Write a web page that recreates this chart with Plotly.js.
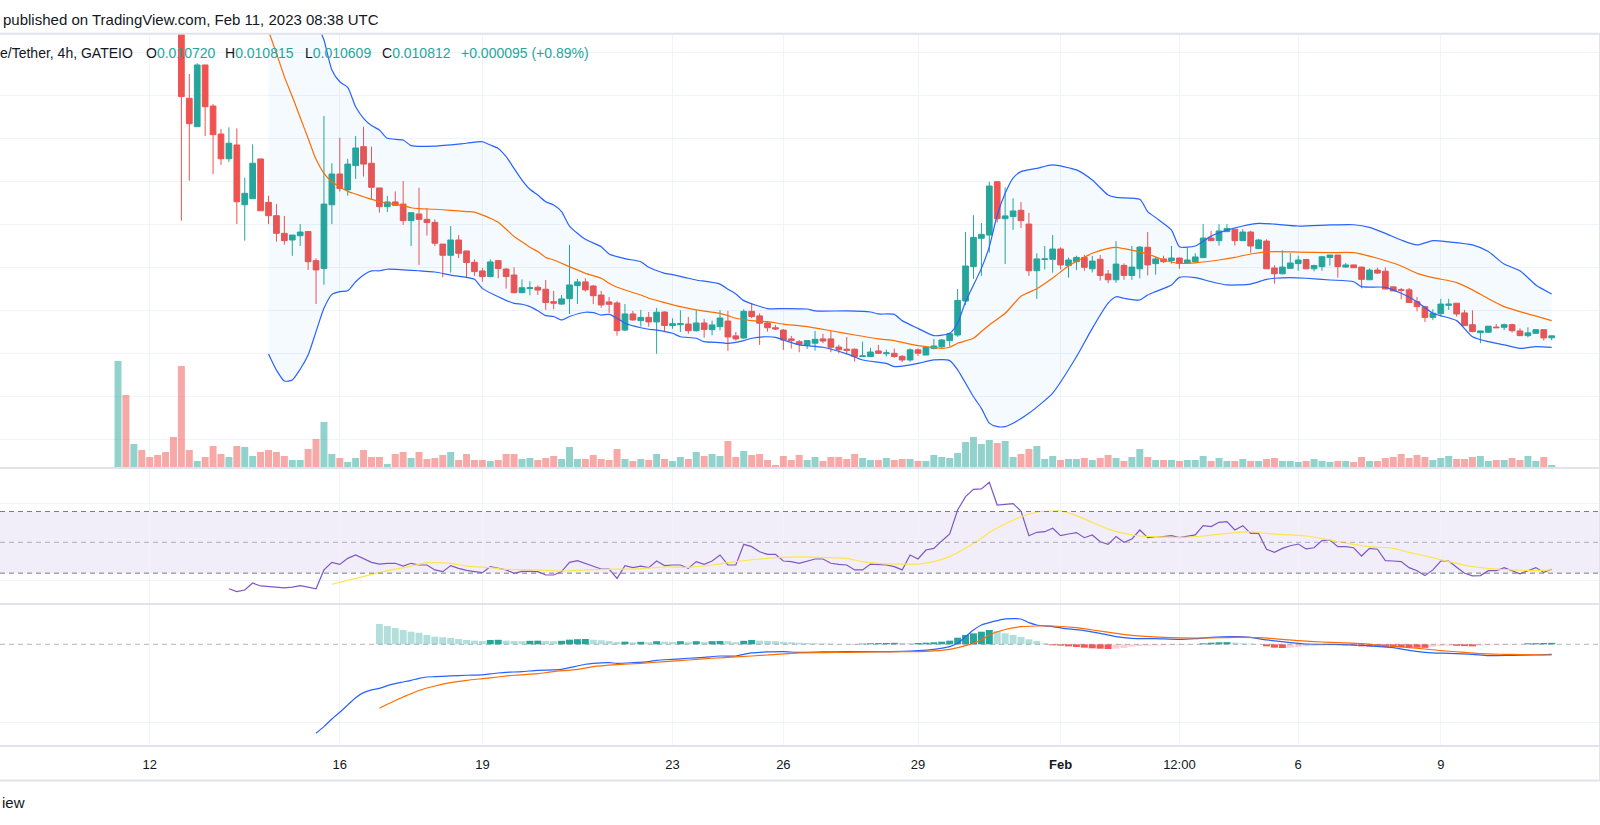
<!DOCTYPE html>
<html><head><meta charset="utf-8">
<script src="https://cdn.plot.ly/plotly-3.0.1.min.js"></script>
<style>html,body{margin:0;padding:0;background:#fff;}#chart{width:1600px;height:825px;}</style>
</head><body><div id="chart"></div>
<script>
// ---------------- DATA ----------------
const candleOpen = [0.0300,0.0312,0.0292,0.0301,0.0293,0.0286,0.0279,0.0273,
0.0262,0.02186,0.02054,0.02341,0.02150,0.02020,0.01905,0.01969,0.01691,0.01719,
0.01904,0.01702,0.01640,0.01558,0.01527,0.01547,0.01566,0.01431,0.01394,0.01691,
0.01834,0.01760,0.01873,0.01961,0.01884,0.01769,0.01682,0.01704,0.01694,0.01617,
0.01648,0.01623,0.01609,0.01508,0.01456,0.01527,0.01476,0.01423,0.01383,0.01357,
0.01431,0.01392,0.01364,0.01282,0.01301,0.01307,0.01298,0.01240,0.01229,0.01254,
0.01315,0.01332,0.01313,0.01271,0.01239,0.01234,0.01108,0.01183,0.01152,0.01167,
0.01146,0.01192,0.01129,0.01133,0.01136,0.01105,0.01141,0.01110,0.01124,0.01150,
0.01081,0.01071,0.01195,0.01174,0.01141,0.01119,0.01108,0.01067,0.01054,0.01039,
0.01047,0.01067,0.01067,0.01029,0.01019,0.01019,0.00985,0.00985,0.01011,0.00998,
0.01000,0.00986,0.00969,0.01016,0.00992,0.01022,0.01031,0.01059,0.01085,0.01243,
0.01403,0.01535,0.01550,0.01798,0.01626,0.01636,0.01665,0.01601,0.01384,0.01436,
0.01437,0.01485,0.01408,0.01426,0.01446,0.01393,0.01437,0.01369,0.01342,0.01409,
0.01362,0.01393,0.01493,0.01417,0.01439,0.01431,0.01443,0.01418,0.01426,0.01445,
0.01536,0.01524,0.01566,0.01577,0.01524,0.01564,0.01487,0.01522,0.01397,0.01370,
0.01395,0.01417,0.01436,0.01393,0.01403,0.01446,0.01457,0.01401,0.01411,0.01401,
0.01342,0.01387,0.01382,0.01309,0.01296,0.01295,0.01240,0.01217,0.01167,0.01185,
0.01223,0.01233,0.01188,0.01133,0.01096,0.01098,0.01122,0.01121,0.01133,0.01104,
0.01082,0.01093,0.01110,0.010720];
const candleHigh = [0.0318,0.0316,0.0305,0.0304,0.0296,0.0290,0.0283,0.0276,
0.0266,0.02299,0.02349,0.02341,0.02159,0.02043,0.02051,0.02046,0.01817,0.01972,
0.01904,0.01733,0.01694,0.01639,0.01550,0.01601,0.01569,0.01442,0.02104,0.01884,
0.02003,0.01904,0.02011,0.02054,0.01961,0.01769,0.01732,0.01753,0.01801,0.01654,
0.01770,0.01676,0.01623,0.01508,0.01592,0.01550,0.01476,0.01437,0.01397,0.01437,
0.01434,0.01395,0.01400,0.01344,0.01335,0.01316,0.01341,0.01290,0.01271,0.01504,
0.01346,0.01349,0.01318,0.01290,0.01262,0.01243,0.01229,0.01197,0.01202,0.01192,
0.01211,0.01195,0.01163,0.01200,0.01169,0.01200,0.01160,0.01152,0.01200,0.01197,
0.01099,0.01205,0.01234,0.01186,0.01149,0.01132,0.01113,0.01081,0.01062,0.01060,
0.01104,0.01091,0.01104,0.01040,0.01076,0.01023,0.01054,0.01025,0.01039,0.01017,
0.01022,0.00992,0.01023,0.01023,0.01033,0.01067,0.01067,0.01096,0.01299,0.01564,
0.01642,0.01606,0.01798,0.01801,0.01772,0.01721,0.01704,0.01653,0.01465,0.01499,
0.01550,0.01493,0.01445,0.01454,0.01457,0.01453,0.01457,0.01387,0.01522,0.01418,
0.01499,0.01499,0.01564,0.01449,0.01454,0.01499,0.01446,0.01493,0.01465,0.01601,
0.01570,0.01601,0.01601,0.01581,0.01577,0.01570,0.01532,0.01530,0.01409,0.01479,
0.01466,0.01454,0.01439,0.01412,0.01453,0.01457,0.01457,0.01420,0.01412,0.01403,
0.01395,0.01398,0.01400,0.01309,0.01304,0.01304,0.01262,0.01217,0.01205,0.01253,
0.01253,0.01233,0.01202,0.01200,0.01104,0.01127,0.01136,0.01138,0.01138,0.01116,
0.01121,0.01112,0.01112,0.010815];
const candleLow = [0.0290,0.0288,0.0288,0.0290,0.0284,0.0277,0.0270,0.0258,
0.01617,0.01803,0.02054,0.02011,0.01834,0.01876,0.01890,0.01601,0.01524,0.01719,
0.01663,0.01601,0.01519,0.01505,0.01453,0.01499,0.01388,0.01229,0.01319,0.01601,
0.01752,0.01733,0.01811,0.01822,0.01716,0.01654,0.01657,0.01688,0.01597,0.01499,
0.01411,0.01547,0.01499,0.01353,0.01375,0.01443,0.01349,0.01360,0.01333,0.01353,
0.01349,0.01301,0.01279,0.01279,0.01270,0.01271,0.01202,0.01205,0.01225,0.01183,
0.01229,0.01287,0.01229,0.01212,0.01188,0.01082,0.01104,0.01152,0.01124,0.01124,
0.00998,0.01104,0.01114,0.01099,0.01091,0.01101,0.01073,0.01084,0.01107,0.01011,
0.01059,0.01067,0.01163,0.01039,0.01101,0.01108,0.01016,0.01022,0.01005,0.01020,
0.01013,0.01047,0.01005,0.01000,0.00997,0.00961,0.00985,0.00983,0.00997,0.00985,
0.00979,0.00959,0.00961,0.00988,0.00992,0.01019,0.01022,0.01031,0.01077,0.01225,
0.01346,0.01360,0.01468,0.01608,0.01415,0.01574,0.01583,0.01360,0.01253,0.01390,
0.01375,0.01390,0.01352,0.01387,0.01384,0.01376,0.01338,0.01326,0.01328,0.01342,
0.01342,0.01349,0.01362,0.01366,0.01420,0.01417,0.01393,0.01418,0.01421,0.01445,
0.01522,0.01501,0.01564,0.01501,0.01524,0.01468,0.01485,0.01393,0.01324,0.01367,
0.01393,0.01384,0.01392,0.01381,0.01384,0.01408,0.01352,0.01398,0.01398,0.01302,
0.01341,0.01370,0.01298,0.01290,0.01251,0.01236,0.01195,0.01146,0.01154,0.01171,
0.01202,0.01171,0.01129,0.01098,0.01047,0.01096,0.01119,0.01108,0.01096,0.01081,
0.01074,0.01090,0.01059,0.010609];
const candleClose = [0.0312,0.0292,0.0301,0.0293,0.0286,0.0279,0.0273,0.0262,
0.02194,0.02068,0.02341,0.02147,0.02017,0.01905,0.01977,0.01705,0.01744,0.01884,
0.01663,0.01640,0.01558,0.01524,0.01550,0.01564,0.01426,0.01388,0.01694,0.01834,
0.01766,0.01880,0.01955,0.01880,0.01772,0.01682,0.01704,0.01688,0.01617,0.01654,
0.01623,0.01608,0.01512,0.01456,0.01527,0.01465,0.01422,0.01380,0.01357,0.01425,
0.01394,0.01357,0.01282,0.01305,0.01305,0.01294,0.01236,0.01233,0.01253,0.01318,
0.01332,0.01295,0.01268,0.01225,0.01228,0.01105,0.01183,0.01155,0.01167,0.01146,
0.01191,0.01129,0.01138,0.01138,0.01105,0.01141,0.01111,0.01132,0.01164,0.01076,
0.01067,0.01195,0.01171,0.01140,0.01119,0.01113,0.01062,0.01059,0.01042,0.01059,
0.01065,0.01057,0.01028,0.01017,0.01014,0.00985,0.00988,0.01006,0.01000,0.01002,
0.00985,0.00969,0.01016,0.01000,0.01028,0.01034,0.01062,0.01091,0.01246,0.01406,
0.01539,0.01553,0.01778,0.01626,0.01639,0.01662,0.01617,0.01384,0.01439,0.01439,
0.01485,0.01411,0.01434,0.01446,0.01400,0.01429,0.01362,0.01342,0.01415,0.01362,
0.01401,0.01494,0.01411,0.01439,0.01426,0.01443,0.01418,0.01434,0.01448,0.01536,
0.01524,0.01569,0.01580,0.01524,0.01564,0.01499,0.01527,0.01393,0.01370,0.01401,
0.01420,0.01434,0.01393,0.01408,0.01449,0.01457,0.01403,0.01411,0.01398,0.01344,
0.01387,0.01373,0.01299,0.01290,0.01293,0.01236,0.01217,0.01167,0.01186,0.01229,
0.01229,0.01183,0.01129,0.01101,0.01104,0.01126,0.01119,0.01133,0.01105,0.01082,
0.01095,0.01110,0.010717,0.010812];
// volume (relative units)
const volume = [107,73,24,18,11,13,16,31,102,18,
7,11,22,14,11,22,21,12,16,18,
16,12,8,8,19,29,46,14,10,6,
10,18,11,11,4,14,16,10,16,9,
10,13,16,8,14,8,8,7,8,14,
14,9,10,8,10,12,9,21,9,9,
13,9,8,19,9,7,9,8,14,9,
7,11,9,16,12,14,12,27,11,17,
13,14,8,3,12,8,13,8,11,7,
11,11,9,14,10,8,8,10,8,9,
9,7,7,13,11,10,15,26,31,24,
28,25,27,11,14,19,22,9,12,8,
9,9,10,8,10,13,10,7,11,19,
11,8,8,8,7,8,8,12,7,10,
7,7,9,7,7,9,10,7,7,6,
7,9,7,6,7,7,6,11,7,7,
10,11,14,10,13,11,8,10,12,9,
9,11,12,7,8,8,10,8,12,7,
11,3];
// Bollinger Bands (20, 2) read at bar indices
const bbUpperIdx = [19,21,23,25,26,27,28,29,30,31,32,33,34,36,37,40,44,46,47,48,49,50,51,52,53,54,55,56,57,59,61,62,64,66,67,69,70,72,73,76,77,78,79,82,84,87,88,92,95,96,98,99,101,103,105,106,107,109,110,111,112,113,114,116,118,121,123,125,126,129,130,131,133,134,136,138,140,142,144,146,149,153,156,158,160,162,164,166,168,171,173,175,177,179,181];
const bbUpper = [0.0345,0.0318,0.0290,0.02550,0.02457,0.02318,0.02263,0.02237,0.02147,0.02093,0.02059,0.02039,0.02000,0.01992,0.01966,0.01964,0.01977,0.01984,0.01969,0.01953,0.01915,0.01860,0.01806,0.01763,0.01736,0.01705,0.01690,0.01659,0.01592,0.01530,0.01496,0.01462,0.01440,0.01426,0.01400,0.01372,0.01366,0.01349,0.01341,0.01322,0.01298,0.01276,0.01245,0.01208,0.01208,0.01206,0.01197,0.01197,0.01192,0.01183,0.01181,0.01152,0.01116,0.01082,0.01093,0.01140,0.01240,0.01395,0.01496,0.01643,0.01744,0.01815,0.01845,0.01860,0.01876,0.01853,0.01806,0.01736,0.01725,0.01716,0.01659,0.01631,0.01573,0.01496,0.01499,0.01545,0.01573,0.01592,0.01604,0.01601,0.01592,0.01597,0.01598,0.01586,0.01558,0.01527,0.01504,0.01524,0.01518,0.01504,0.01473,0.01415,0.01384,0.01318,0.01276];
const bbBasisIdx = [19,20,21,22,23,24,25,26,27,28,29,30,31,32,33,34,35,36,37,38,40,42,44,45,46,47,48,49,50,51,52,53,54,55,57,59,61,62,63,66,67,69,71,73,76,77,78,80,82,84,87,90,93,96,98,100,102,104,105,106,108,109,110,112,114,116,118,120,123,125,126,127,130,132,134,136,139,141,143,146,149,153,156,159,162,164,166,169,171,173,175,178,181];
const bbBasis = [0.02500,0.02395,0.02287,0.02194,0.02097,0.02000,0.01902,0.01837,0.01798,0.01775,0.01753,0.01741,0.01728,0.01716,0.01705,0.01698,0.01692,0.01687,0.01677,0.01673,0.01670,0.01665,0.01659,0.01657,0.01643,0.01628,0.01609,0.01577,0.01543,0.01519,0.01493,0.01473,0.01446,0.01434,0.01403,0.01372,0.01349,0.01326,0.01307,0.01271,0.01256,0.01236,0.01217,0.01202,0.01186,0.01175,0.01163,0.01152,0.01147,0.01136,0.01124,0.01105,0.01085,0.01067,0.01059,0.01043,0.01031,0.01023,0.01028,0.01047,0.01070,0.01101,0.01132,0.01186,0.01265,0.01300,0.01350,0.01406,0.01465,0.01488,0.01493,0.01487,0.01462,0.01434,0.01418,0.01421,0.01434,0.01446,0.01462,0.01473,0.01471,0.01468,0.01468,0.01442,0.01406,0.01372,0.01352,0.01329,0.01295,0.01254,0.01217,0.01183,0.01152];
const bbLowerIdx = [19,20,21,22,23,24,25,26,27,28,29,30,31,32,33,34,36,38,40,42,44,45,46,48,50,51,52,53,54,55,56,57,59,60,61,62,63,64,66,67,68,70,71,73,74,76,77,79,80,82,83,84,86,89,92,94,97,98,100,101,103,105,106,108,109,110,111,112,113,115,118,121,123,125,126,127,129,130,131,133,134,136,138,140,143,145,146,148,150,153,156,157,160,162,164,166,169,171,173,175,177,179,181];
const bbLower = [0.00997,0.00922,0.00871,0.00876,0.00926,0.00992,0.01101,0.01209,0.01274,0.01287,0.01291,0.01333,0.01364,0.01383,0.01384,0.01391,0.01388,0.01384,0.01378,0.01364,0.01353,0.01344,0.01302,0.01263,0.01232,0.01228,0.01217,0.01198,0.01175,0.01171,0.01155,0.01171,0.01191,0.01189,0.01178,0.01181,0.01163,0.01140,0.01119,0.01112,0.01108,0.01093,0.01077,0.01070,0.01054,0.01050,0.01046,0.01059,0.01070,0.01077,0.01074,0.01062,0.01039,0.01028,0.00997,0.00969,0.00953,0.00938,0.00946,0.00953,0.00969,0.00966,0.00923,0.00798,0.00744,0.00675,0.00659,0.00659,0.00675,0.00721,0.00815,0.00984,0.01116,0.01233,0.01263,0.01256,0.01248,0.01271,0.01287,0.01318,0.01353,0.01352,0.01333,0.01318,0.01322,0.01344,0.01349,0.01352,0.01349,0.01341,0.01333,0.01310,0.01307,0.01279,0.01240,0.01186,0.01152,0.01077,0.01054,0.01039,0.01023,0.01031,0.01028];
// RSI (14), first value at bar 14
const rsiStart = 14;
const rsiValues = [19.9,18.0,19.1,23.6,21.7,21.2,20.8,20.4,21.0,21.9,21.0,19.9,32.1,37.0,35.7,39.6,41.8,39.6,37.0,35.9,
36.4,36.4,34.6,36.4,35.3,35.3,32.1,31.0,34.9,33.1,31.8,31.0,30.3,34.2,33.1,32.1,29.9,31.2,31.2,31.0,
28.8,28.8,31.0,37.0,38.1,36.4,34.9,32.7,32.7,26.6,34.9,33.6,34.6,33.6,37.9,34.9,35.3,35.3,33.1,37.5,
35.7,37.9,41.8,35.3,35.3,48.7,47.2,43.9,42.2,42.2,37.9,37.5,
36.4,37.9,39.2,39.2,36.4,35.7,35.3,32.1,32.1,35.9,35.7,35.3,34.2,32.1,41.8,39.2,45.0,46.1,50.9,55.4,
71.0,79.6,84.4,84.6,88.9,74.2,74.6,75.1,70.3,54.3,56.5,56.9,59.1,54.3,55.4,56.3,53.0,54.8,50.4,48.7,
53.7,50.0,52.2,58.0,53.0,53.7,53.7,54.3,53.0,53.7,54.8,60.8,60.2,63.0,63.4,58.0,60.8,55.8,55.8,45.5,
43.5,46.1,47.8,48.9,45.7,46.5,51.1,51.5,47.2,47.2,46.5,41.1,46.1,45.5,38.1,37.9,37.5,33.6,31.6,28.4,
32.1,37.9,37.9,33.8,29.9,28.2,28.4,31.6,31.6,33.6,31.4,29.5,31.6,33.6,30.5,32.5];
const rsiMaIdx = [27,30,33,37,39,42,44,47,49,53,56,59,62,65,69,72,75,78,81,86,89,92,94,96,99,101,103,105,107,109,110,112,114,116,118,119,121,123,125,127,129,131,134,137,140,143,145,148,150,153,156,158,161,163,166,168,171,174,176,179,181];
const rsiMa = [22.8,26.6,30.5,34.6,36.8,36.4,34.6,33.6,32.5,32.1,31.4,32.1,32.5,32.7,34.0,33.8,35.3,37.5,39.2,40.5,40.1,39.6,37.5,36.4,35.9,35.9,37.5,40.7,46.1,52.6,56.5,61.9,66.6,69.5,70.3,70.3,67.3,63.0,58.6,55.8,54.1,53.7,53.2,54.1,55.8,56.9,55.8,54.8,54.1,51.5,48.7,47.2,46.1,43.5,40.1,37.5,34.2,32.7,32.1,31.6,32.1];
// MACD (12, 26, 9)
const macdIdx = [25,26,27,28,29,30,31,32,33,34,35,36,37,38,39,40,42,44,46,47,48,49,51,53,55,56,57,58,59,60,62,63,65,67,68,70,72,74,76,78,79,80,81,82,84,86,89,92,96,99,101,103,105,106,107,108,109,110,111,112,114,115,116,118,120,122,124,126,128,131,134,136,138,141,143,145,148,150,153,156,158,161,163,166,168,171,173,176,179,181];
const macdLine = [-0.001141,-0.001056,-0.000957,-0.000872,-0.000778,-0.000684,-0.000620,-0.000585,-0.000564,-0.000530,-0.000504,-0.000483,-0.000462,-0.000436,-0.000419,-0.000415,-0.000406,-0.000397,-0.000393,-0.000380,-0.000368,-0.000359,-0.000350,-0.000333,-0.000329,-0.000321,-0.000299,-0.000278,-0.000256,-0.000244,-0.000235,-0.000244,-0.000235,-0.000222,-0.000205,-0.000192,-0.000179,-0.000167,-0.000150,-0.000150,-0.000128,-0.000111,-0.000103,-0.000098,-0.000094,-0.000103,-0.000098,-0.000094,-0.000094,-0.000090,-0.000081,-0.000064,-0.000030,0.000013,0.000098,0.000184,0.000248,0.000278,0.000303,0.000325,0.000325,0.000278,0.000248,0.000226,0.000197,0.000175,0.000141,0.000098,0.000077,0.000073,0.000064,0.000073,0.000090,0.000098,0.000090,0.000056,0.000021,0.000004,0.0,-0.000009,-0.000021,-0.000043,-0.000077,-0.000111,-0.000115,-0.000128,-0.000145,-0.000141,-0.000137,-0.000128];
const signalIdx = [33,34,35,36,38,40,42,44,46,48,50,53,55,58,60,63,66,69,72,75,78,82,86,89,92,96,99,102,105,107,109,110,112,114,116,118,121,123,126,128,132,136,139,141,144,147,149,152,154,157,159,162,165,167,170,172,175,177,181];
const signalLine = [-0.000821,-0.000769,-0.000720,-0.000675,-0.000592,-0.000534,-0.000491,-0.000462,-0.000440,-0.000419,-0.000397,-0.000376,-0.000350,-0.000321,-0.000286,-0.000261,-0.000244,-0.000222,-0.000201,-0.000179,-0.000162,-0.000137,-0.000111,-0.000107,-0.000103,-0.000098,-0.000094,-0.000090,-0.000064,-0.000017,0.000056,0.000120,0.000190,0.000226,0.000235,0.000235,0.000214,0.000184,0.000141,0.000115,0.000090,0.000081,0.000085,0.000090,0.000085,0.000064,0.000047,0.000030,0.000021,0.000009,-0.000009,-0.000034,-0.000060,-0.000081,-0.000103,-0.000120,-0.000128,-0.000132,-0.000137];
const histStart = 33;
const histValues = [0.000261,0.000235,0.000209,0.000184,0.000162,0.000148,0.000120,0.000098,0.000090,0.000081,
0.000068,0.000056,0.000047,0.000043,0.000056,0.000058,0.000047,0.000043,0.000041,0.000045,
0.000047,0.000043,0.000040,0.000045,0.000060,0.000066,0.000068,0.000058,0.000052,0.000043,
0.000030,0.000034,0.000026,0.000032,0.000026,0.000040,0.000034,0.000030,0.000040,0.000028,
0.000040,0.000028,0.000040,0.000043,0.000040,0.000028,0.000045,0.000056,0.000047,0.000043,
0.000040,0.000032,0.000026,0.000021,
0.000017,0.000013,0.000011,0.000009,0.000004,0.000002,-0.000004,0.000009,0.000013,0.000015,
0.000017,0.000019,0.000015,0.000013,0.000017,0.000021,0.000026,0.000034,0.000047,0.000085,
0.000120,0.000141,0.000162,0.000184,0.000171,0.000141,0.000120,0.000094,0.000064,0.000043,
0.000013,-0.000013,-0.000017,-0.000026,-0.000034,-0.000043,-0.000051,-0.000056,-0.000060,-0.000056,
-0.000047,-0.000030,-0.000021,-0.000017,-0.000015,-0.000013,-0.000011,-0.000009,-0.000006,-0.000004,
0.000013,0.000021,0.000026,0.000028,0.000021,0.000013,0.000009,0.000004,-0.000026,-0.000043,
-0.000047,-0.000043,-0.000034,-0.000026,-0.000021,-0.000017,-0.000013,-0.000009,-0.000013,-0.000017,
-0.000026,-0.000028,-0.000030,-0.000034,-0.000036,-0.000038,-0.000040,-0.000043,-0.000045,-0.000030,
-0.000021,-0.000017,-0.000019,-0.000023,-0.000026,-0.000017,-0.000013,-0.000011,-0.000009,-0.000006,
-0.000004,0.000013,0.000015,0.000017,0.000019];
// x-axis ticks (bar index where each date starts)
const tickIndex = [4,28,46,70,84,101,119,134,149,167];
const tickLabels = ['12','16','19','23','26','29','<b>Feb</b>','12:00','6','9'];

// ---------------- LAYOUT HELPERS ----------------
const FIG_W = 1600, TOP = 34, AXIS_Y = 746;
const PLOT_H = AXIS_Y - TOP;
const py = p => (AXIS_Y - p) / PLOT_H;   // pixel row -> paper y
const px = p => p / FIG_W;               // pixel col -> paper x
const FONT = 'Liberation Sans, Arial, sans-serif';
const TXT = '#131722', TEAL = '#26a69a', RED = '#ef5350';

const barIndex = candleOpen.map((_, i) => i);
const up = barIndex.map(i => candleClose[i] >= candleOpen[i]);
const volColors = up.map(u => u ? 'rgba(38,166,154,0.5)' : 'rgba(239,83,80,0.5)');
const rsiX = rsiValues.map((_, k) => rsiStart + k);
const histX = histValues.map((_, k) => histStart + k);
const histColors = histValues.map((h, k) => {
  const prev = k > 0 ? histValues[k - 1] : null;
  if (h >= 0) return (prev !== null && prev < h) ? '#26a69a' : '#b2dfdb';
  return (prev !== null && prev < h) ? '#ffcdd2' : '#ff5252';
});

const traces = [
  {type:'bar', x:barIndex, y:volume, xaxis:'x', yaxis:'y', marker:{color:volColors, line:{width:0}}, hoverinfo:'skip'},
  {type:'scatter', mode:'lines', x:bbUpperIdx, y:bbUpper, xaxis:'x', yaxis:'y2', line:{color:'#2962ff', width:1.2, shape:'spline', smoothing:0.6}, hoverinfo:'skip'},
  {type:'scatter', mode:'lines', x:bbLowerIdx, y:bbLower, xaxis:'x', yaxis:'y2', line:{color:'#2962ff', width:1.2, shape:'spline', smoothing:0.6}, fill:'tonexty', fillcolor:'rgba(33,150,243,0.05)', hoverinfo:'skip'},
  {type:'scatter', mode:'lines', x:bbBasisIdx, y:bbBasis, xaxis:'x', yaxis:'y2', line:{color:'#ff6d00', width:1.2, shape:'spline', smoothing:0.6}, hoverinfo:'skip'},
  {type:'candlestick', x:barIndex, open:candleOpen, high:candleHigh, low:candleLow, close:candleClose, xaxis:'x', yaxis:'y2',
    increasing:{line:{color:TEAL, width:1}, fillcolor:TEAL}, decreasing:{line:{color:RED, width:1}, fillcolor:RED}, whiskerwidth:0, hoverinfo:'skip'},
  {type:'scatter', mode:'lines', x:rsiX, y:rsiValues, xaxis:'x', yaxis:'y3', line:{color:'#7e57c2', width:1.2}, hoverinfo:'skip'},
  {type:'scatter', mode:'lines', x:rsiMaIdx, y:rsiMa, xaxis:'x', yaxis:'y3', line:{color:'#fde64b', width:1.2, shape:'spline', smoothing:0.6}, hoverinfo:'skip'},
  {type:'bar', x:histX, y:histValues, xaxis:'x', yaxis:'y4', marker:{color:histColors, line:{width:0}}, hoverinfo:'skip'},
  {type:'scatter', mode:'lines', x:macdIdx, y:macdLine, xaxis:'x', yaxis:'y4', line:{color:'#2962ff', width:1.2, shape:'spline', smoothing:0.6}, hoverinfo:'skip'},
  {type:'scatter', mode:'lines', x:signalIdx, y:signalLine, xaxis:'x', yaxis:'y4', line:{color:'#ff6d00', width:1.2, shape:'spline', smoothing:0.6}, hoverinfo:'skip'}
];

const gridColor = '#f0f3fa';
const sepColor = '#e0e3eb';
const hline = (y, w) => ({type:'line', xref:'paper', yref:'paper', x0:0, x1:1, y0:y, y1:y, line:{color:sepColor, width:w}});
const dashLine = (yref, v, c) => ({type:'line', xref:'paper', yref:yref, x0:0, x1:1, y0:v, y1:v, line:{color:c, width:1, dash:'5px,4px'}});

// legend text built from the last candle
const n = candleClose.length - 1;
const chg = candleClose[n] - candleClose[n - 1];
const pct = chg / candleClose[n - 1] * 100;
const val = v => '<span style="color:' + TEAL + '">' + v.toFixed(6) + '</span>';
const ann = (x, y, text, anchor, size) => ({x:x, y:y, xref:'paper', yref:'paper', xanchor:anchor, yanchor:'middle', text:text, showarrow:false, font:{family:FONT, size:size, color:TXT}});

const layout = {
  width:1600, height:825, margin:{l:0, r:0, t:TOP, b:825 - AXIS_Y, pad:0},
  paper_bgcolor:'#ffffff', plot_bgcolor:'rgba(0,0,0,0)', showlegend:false, hovermode:false,
  bargap:0.12, boxgap:0.2, boxgroupgap:0.1,
  font:{family:FONT, color:TXT},
  xaxis:{range:[-14.9, 187.1], anchor:'y4', tickmode:'array', tickvals:tickIndex, ticktext:tickLabels,
    showgrid:true, gridcolor:gridColor, gridwidth:1, zeroline:false, showline:false,
    ticks:'outside', ticklen:6, tickcolor:'rgba(0,0,0,0)', tickfont:{family:FONT, size:13, color:TXT},
    rangeslider:{visible:false}, fixedrange:true},
  yaxis:{domain:[py(468), 1], range:[0, 434], showgrid:false, zeroline:false, showticklabels:false, fixedrange:true},
  yaxis2:{domain:[py(468), 1], overlaying:'y', range:[0.004665, 0.024851], tick0:0, dtick:0.002, showgrid:true, gridcolor:gridColor, zeroline:false, showticklabels:false, fixedrange:true},
  yaxis3:{domain:[py(604), py(468)], range:[10.0, 98.2], tickmode:'array', tickvals:[25, 75], showgrid:true, gridcolor:gridColor, zeroline:false, showticklabels:false, fixedrange:true},
  yaxis4:{domain:[0, py(604)], range:[-0.001304, 0.000517], tickmode:'array', tickvals:[-0.001], showgrid:true, gridcolor:gridColor, zeroline:false, showticklabels:false, fixedrange:true},
  shapes:[
    {type:'rect', xref:'paper', yref:'y3', x0:0, x1:1, y0:30, y1:70, fillcolor:'rgba(126,87,194,0.1)', line:{width:0}, layer:'below'},
    dashLine('y3', 70, '#787b86'), dashLine('y3', 50, 'rgba(120,123,134,0.55)'), dashLine('y3', 30, '#787b86'),
    dashLine('y4', 0, 'rgba(120,123,134,0.55)'),
    hline(py(33.7), 2), hline(py(468), 2), hline(py(604), 2), hline(0, 2), hline(py(780.5), 2),
    {type:'line', xref:'paper', yref:'paper', x0:px(1599.5), x1:px(1599.5), y0:py(780.5), y1:py(33.7), line:{color:sepColor, width:1}}
  ],
  annotations:[
    ann(px(1), py(19.5), 'published on TradingView.com, Feb 11, 2023 08:38 UTC', 'left', 15),
    ann(px(135), py(53), 'e/Tether, 4h, GATEIO', 'right', 14),
    ann(px(144), py(53), 'O' + val(candleOpen[n]), 'left', 14),
    ann(px(223), py(53), 'H' + val(candleHigh[n]), 'left', 14),
    ann(px(303), py(53), 'L' + val(candleLow[n]), 'left', 14),
    ann(px(380), py(53), 'C' + val(candleClose[n]), 'left', 14),
    ann(px(459), py(53), '<span style="color:' + TEAL + '">' + (chg >= 0 ? '+' : '') + chg.toFixed(6) + ' (' + (pct >= 0 ? '+' : '') + pct.toFixed(2) + '%)</span>', 'left', 14),
    ann(px(0), py(803), 'iew', 'left', 15)
  ]
};

Plotly.newPlot('chart', traces, layout, {displayModeBar:false, staticPlot:true});
</script></body></html>
